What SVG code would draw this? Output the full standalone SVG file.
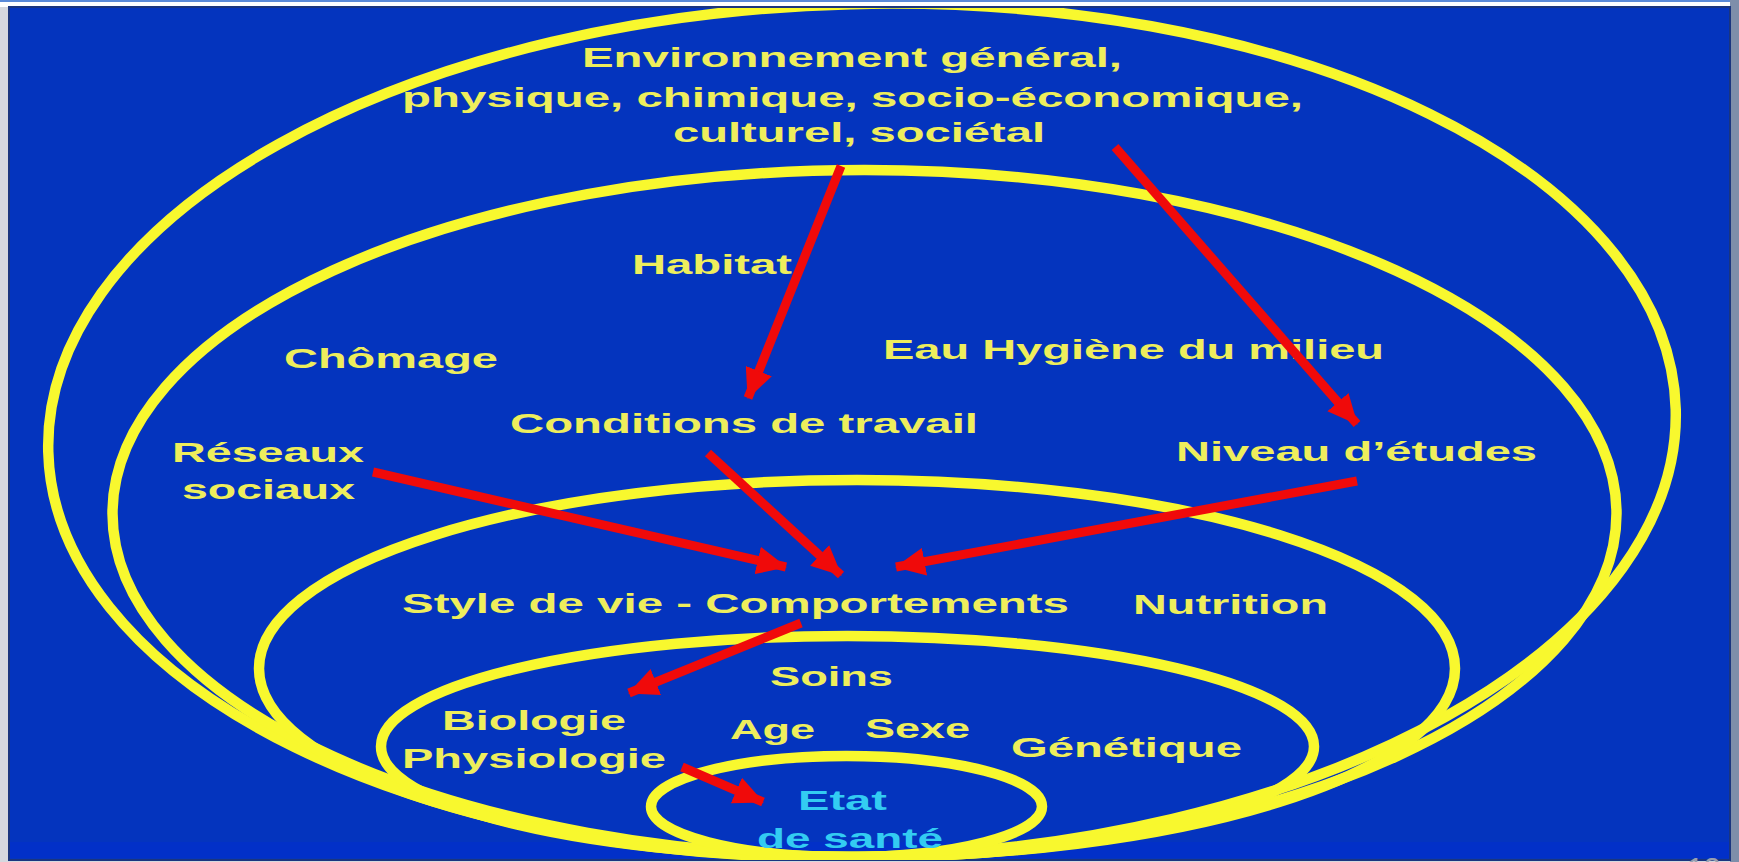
<svg xmlns="http://www.w3.org/2000/svg" width="1739" height="862" viewBox="0 0 1739 862">
<style>
.ring{fill:none;stroke:#f8f82e;stroke-width:10.5}
.t{font-family:"Liberation Sans",Arial,sans-serif;font-weight:bold;font-size:27px;fill:#eeee5c}
.c{fill:#33ccf2}
.arr{stroke:#f00a0a;stroke-width:9;fill:none;marker-end:url(#ah)}
</style>
<defs>
<marker id="ah" viewBox="0 0 30 28" refX="29" refY="14" markerWidth="30" markerHeight="28" markerUnits="userSpaceOnUse" orient="auto">
<path d="M0,0 L30,14 L0,28 z" fill="#f00a0a"/>
</marker>
<clipPath id="slide"><rect x="9" y="8" width="1721" height="852"/></clipPath>
</defs>
<g id="frame">
<rect x="0" y="0" width="1739" height="862" fill="#d6d8de"/>
<rect x="0" y="0" width="1739" height="2" fill="#5a8ad8"/>
<rect x="0" y="2" width="1739" height="5" fill="#ffffff"/>
<rect x="1730" y="0" width="9" height="862" fill="#7e8eaa"/>
<rect x="9" y="7" width="1721" height="853" fill="#0434be" stroke="#1a357f" stroke-width="2"/>
<rect x="10" y="842" width="1719" height="16" fill="#0230c8"/>
</g>
<g id="rings" clip-path="url(#slide)">
<ellipse id="ring-environnement" class="ring" cx="862" cy="430.5" rx="814" ry="426.5" transform="rotate(-1.5 862 430.5)"/>
<ellipse id="ring-social" class="ring" cx="864.5" cy="513.5" rx="752" ry="343.5"/>
<ellipse id="ring-style" class="ring" cx="857" cy="668.5" rx="598" ry="188.5"/>
<ellipse id="ring-soins" class="ring" cx="847.5" cy="746.5" rx="466.5" ry="110.5"/>
<ellipse id="ring-etat" class="ring" cx="846.5" cy="806.5" rx="195.5" ry="50.5"/>
</g>
<g id="node-environnement">
<text class="t" x="582" y="67" textLength="540" lengthAdjust="spacingAndGlyphs">Environnement général,</text>
<text class="t" x="402" y="107" textLength="901" lengthAdjust="spacingAndGlyphs">physique, chimique, socio-économique,</text>
<text class="t" x="673" y="142" textLength="372" lengthAdjust="spacingAndGlyphs">culturel, sociétal</text>
</g>
<g id="node-habitat"><text class="t" x="632" y="274" textLength="160" lengthAdjust="spacingAndGlyphs">Habitat</text></g>
<g id="node-chomage"><text class="t" x="284" y="368" textLength="214" lengthAdjust="spacingAndGlyphs">Chômage</text></g>
<g id="node-eau"><text class="t" x="883" y="359" textLength="501" lengthAdjust="spacingAndGlyphs">Eau Hygiène du milieu</text></g>
<g id="node-conditions"><text class="t" x="510" y="433" textLength="468" lengthAdjust="spacingAndGlyphs">Conditions de travail</text></g>
<g id="node-niveau"><text class="t" x="1176" y="461" textLength="361" lengthAdjust="spacingAndGlyphs">Niveau d’études</text></g>
<g id="node-reseaux">
<text class="t" x="172" y="462" textLength="192" lengthAdjust="spacingAndGlyphs">Réseaux</text>
<text class="t" x="182" y="499" textLength="173" lengthAdjust="spacingAndGlyphs">sociaux</text>
</g>
<g id="node-style"><text class="t" x="402" y="613" textLength="667" lengthAdjust="spacingAndGlyphs">Style de vie - Comportements</text></g>
<g id="node-nutrition"><text class="t" x="1133" y="614" textLength="195" lengthAdjust="spacingAndGlyphs">Nutrition</text></g>
<g id="node-soins"><text class="t" x="770" y="686" textLength="123" lengthAdjust="spacingAndGlyphs">Soins</text></g>
<g id="node-biologie">
<text class="t" x="442" y="730" textLength="184" lengthAdjust="spacingAndGlyphs">Biologie</text>
<text class="t" x="402" y="768" textLength="264" lengthAdjust="spacingAndGlyphs">Physiologie</text>
</g>
<g id="node-age"><text class="t" x="730" y="739" textLength="85" lengthAdjust="spacingAndGlyphs">Age</text></g>
<g id="node-sexe"><text class="t" x="865" y="738" textLength="105" lengthAdjust="spacingAndGlyphs">Sexe</text></g>
<g id="node-genetique"><text class="t" x="1011" y="757" textLength="231" lengthAdjust="spacingAndGlyphs">Génétique</text></g>
<g id="node-etat">
<text class="t c" x="798" y="810" textLength="89" lengthAdjust="spacingAndGlyphs">Etat</text>
<text class="t c" x="757" y="848" textLength="186" lengthAdjust="spacingAndGlyphs">de santé</text>
</g>
<g id="connectors">
<line class="arr" x1="841" y1="166" x2="748" y2="398"/>
<line class="arr" x1="1115" y1="147" x2="1357" y2="424"/>
<line class="arr" x1="373" y1="472" x2="786" y2="567"/>
<line class="arr" x1="708" y1="453" x2="841" y2="575"/>
<line class="arr" x1="1357" y1="481" x2="896" y2="567"/>
<line class="arr" x1="801" y1="623" x2="629" y2="693"/>
<line class="arr" x1="682" y1="767" x2="763" y2="802"/>
</g>
<text x="1687" y="878" font-family="Liberation Sans,Arial,sans-serif" font-size="30" fill="#9aa0b0">12</text>
</svg>
